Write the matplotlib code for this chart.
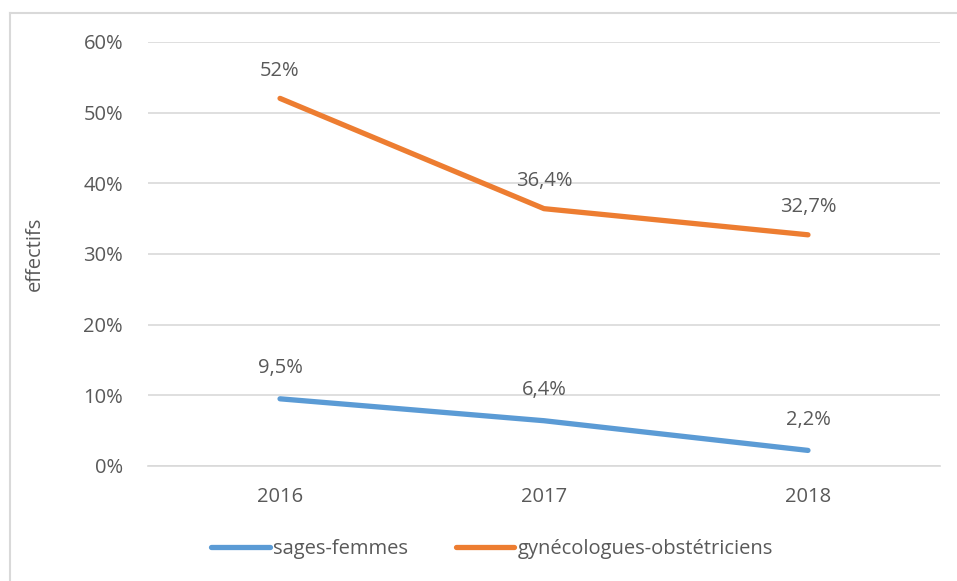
#Line chart: share of sages-femmes vs gynécologues-obstétriciens
import matplotlib.pyplot as plt
from matplotlib.lines import Line2D

#data
years = ['2016', '2017', '2018']
sages_femmes = [9.5, 6.4, 2.2]
gyneco = [52.0, 36.4, 32.7]
labels_sf = ['9,5%', '6,4%', '2,2%']
labels_gy = ['52%', '36,4%', '32,7%']
yticks = [0, 10, 20, 30, 40, 50, 60]

txt = '#595959'
fs = 14.5
plt.rcParams['font.family'] = ['Open Sans', 'DejaVu Sans']

fig = plt.figure(figsize=(9.57, 5.81), dpi=100)
ax = fig.add_axes([0.1547, 0.198, 0.8275, 0.730])

x = range(len(years))
ax.plot(x, sages_femmes, color='#5B9BD5', linewidth=3.8, solid_capstyle='round', label='sages-femmes')
ax.plot(x, gyneco, color='#ED7D31', linewidth=3.8, solid_capstyle='round', label='gynécologues-obstétriciens')

#data labels
for i in x:
    ax.annotate(labels_sf[i], (i, sages_femmes[i]), xytext=(0, 22), textcoords='offset points',
                ha='center', va='center', fontsize=fs, color=txt)
    ax.annotate(labels_gy[i], (i, gyneco[i]), xytext=(0, 20), textcoords='offset points',
                ha='center', va='center', fontsize=fs, color=txt)

#axes
ax.set_xlim(-0.5, 2.5)
ax.set_ylim(0, 60)
ax.set_xticks(list(x))
ax.set_xticklabels(years)
ax.set_yticks(yticks)
ax.set_yticklabels([str(t) + '%' for t in yticks])
ax.tick_params(length=0, labelsize=fs, labelcolor=txt)
ax.tick_params(axis='y', pad=18)
ax.tick_params(axis='x', pad=15)
ax.yaxis.grid(True, color='#D9D9D9', linewidth=1.2)
ax.set_axisbelow(True)
for s in ['top', 'right', 'left']:
    ax.spines[s].set_visible(False)
ax.spines['bottom'].set_color('#D9D9D9')
ax.spines['bottom'].set_linewidth(1.2)
ax.set_ylabel('effectifs', fontsize=fs, color=txt, va='center')
ax.yaxis.set_label_coords(-0.1427, 0.5)

#legend
fig.legend(loc='center', bbox_to_anchor=(0.514, 0.055), ncol=2, frameon=False,
           fontsize=fs, labelcolor=txt, handlelength=2.9, handletextpad=0.15, columnspacing=2.4)

#outer border (top and left only, cropped)
fig.add_artist(Line2D([10/957, 1], [1-13/581, 1-13/581], color='#D9D9D9', linewidth=1.5))
fig.add_artist(Line2D([10/957, 10/957], [0, 1-13/581], color='#D9D9D9', linewidth=1.5))

plt.savefig('out.png', dpi=100)
